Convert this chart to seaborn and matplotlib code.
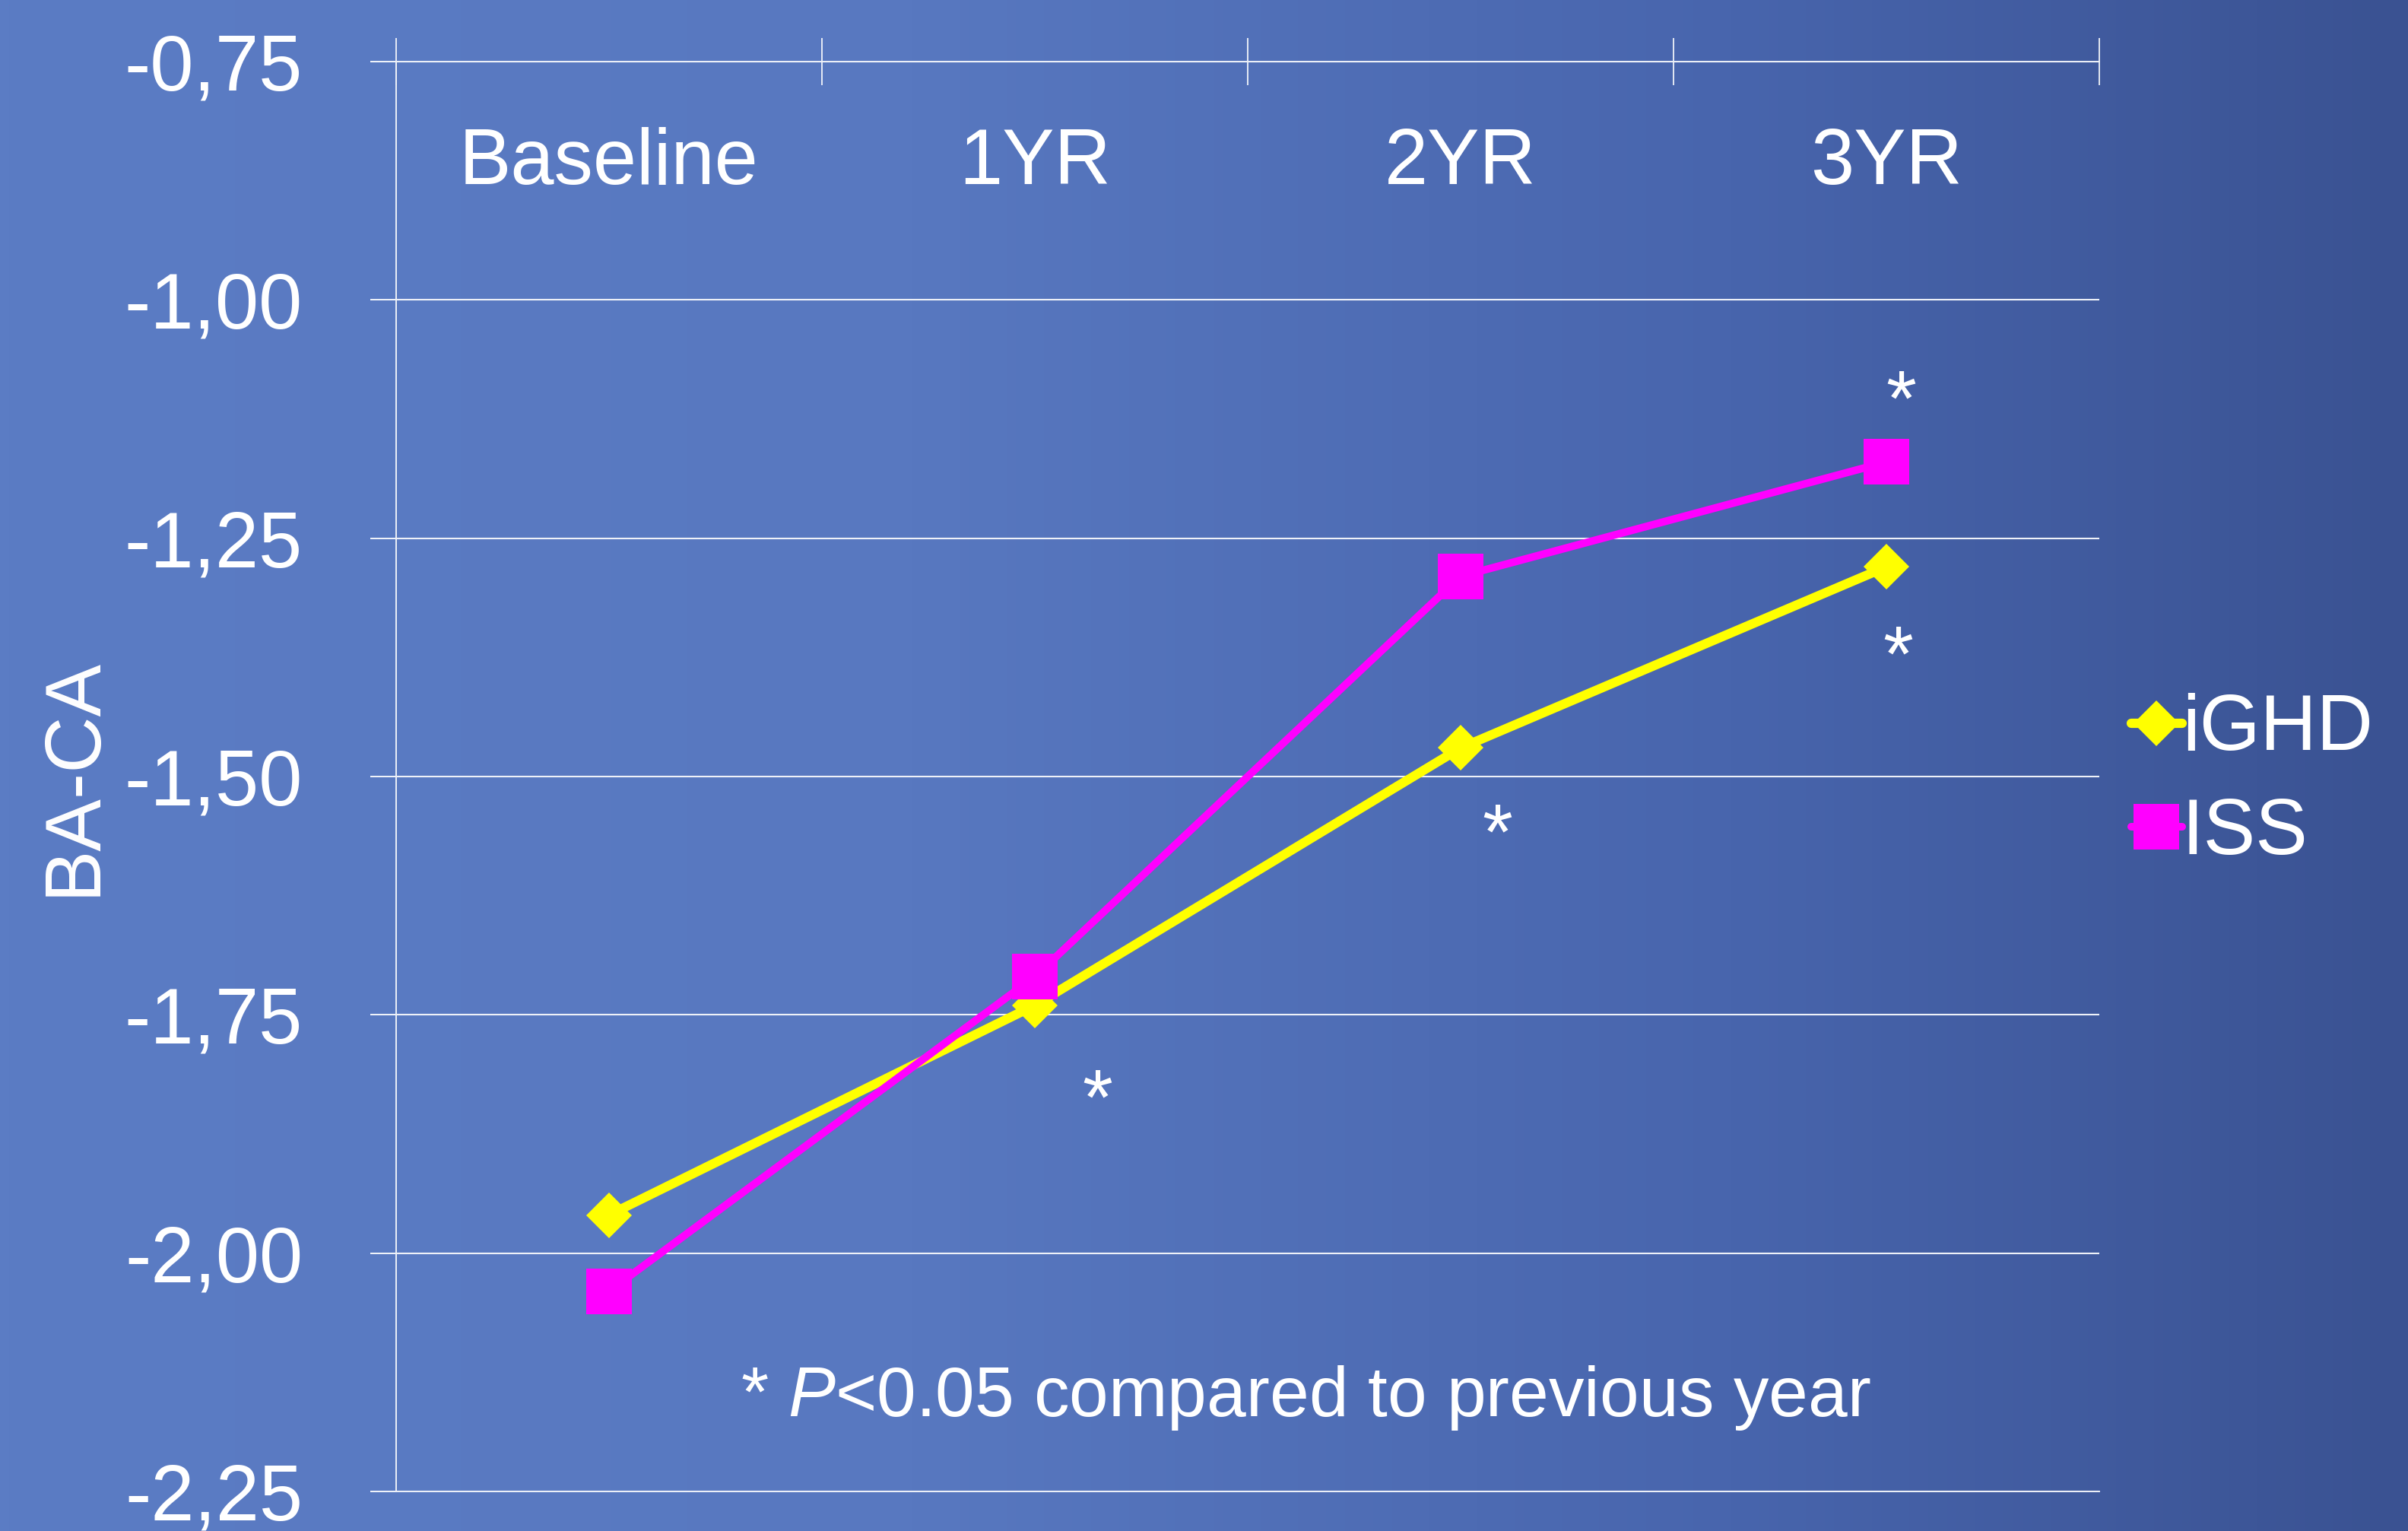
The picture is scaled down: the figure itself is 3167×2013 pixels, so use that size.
import numpy as np
import pandas as pd
import matplotlib
matplotlib.use('Agg')
import matplotlib.pyplot as plt
import seaborn as sns
from matplotlib.colors import LinearSegmentedColormap
from matplotlib.ticker import FixedLocator, FuncFormatter

# ---------------- data ----------------
categories = ['Baseline', '1YR', '2YR', '3YR']
ighd_values = [-1.96, -1.74, -1.47, -1.28]
iss_values = [-2.04, -1.71, -1.29, -1.17]
series_names = ['iGHD', 'ISS']
y_ticks = [-2.25, -2.00, -1.75, -1.50, -1.25, -1.00, -0.75]
y_label = 'BA-CA'
note_text = '* $P$<0.05 compared to previous year'

df = pd.DataFrame({
    'time': categories * 2,
    'value': ighd_values + iss_values,
    'group': [series_names[0]] * len(categories) + [series_names[1]] * len(categories),
})

# ---------------- style ----------------
sns.set_theme(style='white')
plt.rcParams['font.family'] = ['Liberation Sans', 'DejaVu Sans']
plt.rcParams['mathtext.fontset'] = 'custom'
plt.rcParams['mathtext.rm'] = 'Liberation Sans'
plt.rcParams['mathtext.it'] = 'Liberation Sans:italic'

W, H, DPI = 3167, 2013, 100
fig = plt.figure(figsize=(W / DPI, H / DPI), dpi=DPI)

# background gradient
bg = fig.add_axes([0, 0, 1, 1], zorder=-10)
cmap = LinearSegmentedColormap.from_list(
    'bg', [(0.0, '#5b7cc4'), (0.38, '#5878c0'), (0.72, '#4865ad'), (1.0, '#3a5292')])
grad = np.linspace(0, 1, 512)[None, :]
bg.imshow(grad, aspect='auto', cmap=cmap, extent=[0, 1, 0, 1])
bg.set_axis_off()

ax_left, ax_right = 521 / W, 2761 / W
ax_top, ax_bottom = 1 - 81 / H, 1 - 1961 / H
ax = fig.add_axes([ax_left, ax_bottom, ax_right - ax_left, ax_top - ax_bottom])
ax.set_facecolor('none')

WHITE = '#ffffff'
FS = 74

styles = {
    'iGHD': dict(color='#ffff00', marker='D', markersize=30.5, linewidth=8.8),
    'ISS': dict(color='#ff00ff', marker='s', markersize=43, linewidth=7.2),
}
for name in series_names:
    sub = df[df['group'] == name]
    st = styles[name]
    sns.lineplot(data=sub, x='time', y='value', ax=ax, sort=False,
                 color=st['color'], marker=st['marker'], markersize=st['markersize'],
                 markeredgewidth=0, label=name, zorder=5, clip_on=False)
    ax.get_lines()[-1].set_linewidth(st['linewidth'])

# axes limits & ticks
ax.set_xlim(-0.5, len(categories) - 0.5)
ax.set_ylim(min(y_ticks), max(y_ticks))
ax.yaxis.set_major_locator(FixedLocator(y_ticks))
ax.yaxis.set_major_formatter(FuncFormatter(lambda v, p: f'{v:.2f}'.replace('.', ',')))
ax.grid(axis='y', color='#eef1f8', linewidth=1.5)
ax.grid(axis='x', visible=False)
ax.set_axisbelow(True)

ax.tick_params(axis='y', which='major', left=True, direction='out', length=24.5,
               width=1.3, color=WHITE, labelcolor=WHITE, labelsize=FS, pad=64)

ax.set_xticks(range(len(categories)))
ax.set_xticklabels(categories)
ax.xaxis.set_minor_locator(FixedLocator(np.arange(-0.5, len(categories), 1.0)))
ax.tick_params(axis='x', which='major', top=False, bottom=False, labeltop=True,
               labelbottom=False, length=0, labelcolor=WHITE, labelsize=FS, pad=-132)
ax.tick_params(axis='x', which='minor', top=True, bottom=False, direction='inout',
               length=45, width=1.2, color=WHITE)
ax.set_xlabel('')

for side in ['left', 'top', 'bottom']:
    ax.spines[side].set_visible(True)
    ax.spines[side].set_color('#eef1f8')
    ax.spines[side].set_linewidth(1.4)
ax.spines['right'].set_visible(False)

ax.set_ylabel(y_label, color=WHITE, fontsize=FS)
ax.yaxis.set_label_coords(-0.167, 0.5)

# significance asterisks tied to data points (offsets in points)
sig = [
    (3, iss_values[3], (13.7, 34.6)),
    (3, ighd_values[3], (10.8, -108)),
    (2, ighd_values[2], (34.6, -105)),
    (1, ighd_values[1], (59, -113)),
]
for xi, yv, off in sig:
    ax.annotate('*', xy=(xi, yv), xytext=off, textcoords='offset points',
                ha='center', va='baseline', color=WHITE, fontsize=FS, zorder=6)

ax.text(1.636, -2.171, note_text, ha='center', va='baseline', color=WHITE, fontsize=67)

# legend
leg = ax.legend(loc='center left', bbox_to_anchor=(2803 / W, 1 - 1028 / H),
                bbox_transform=fig.transFigure, frameon=False, fontsize=FS,
                handlelength=0.65, handletextpad=0.0, labelspacing=0.38,
                borderpad=0, borderaxespad=0)
for t in leg.get_texts():
    t.set_color(WHITE)
for h in leg.legend_handles:
    lbl = h.get_label()
    if lbl in styles:
        h.set_linewidth(styles[lbl]['linewidth'])

fig.savefig('out.png', dpi=DPI)
